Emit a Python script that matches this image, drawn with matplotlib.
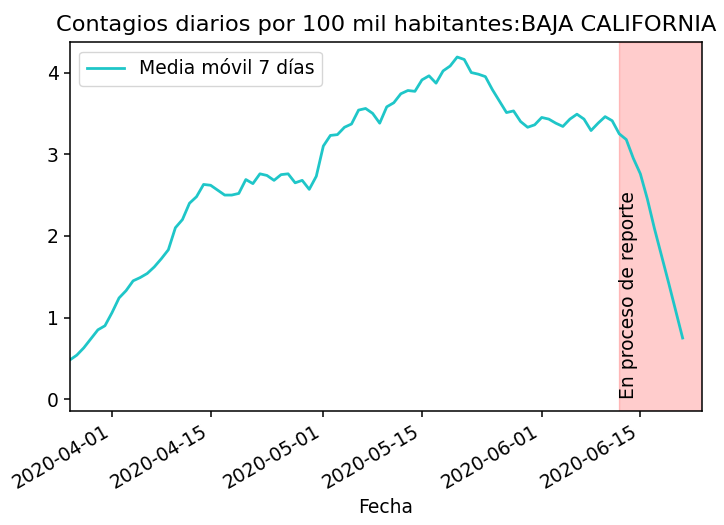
import matplotlib
matplotlib.use("Agg")
import matplotlib.pyplot as plt
import matplotlib.dates as mdates
import pandas as pd
import numpy as np

title = "Contagios diarios por 100 mil habitantes:BAJA CALIFORNIA"
start_date = "2020-03-26"
media_movil = [
    0.48, 0.54, 0.63, 0.74, 0.85, 0.90,                      # Mar 26-31
    1.06, 1.24, 1.33, 1.45, 1.49, 1.54, 1.62, 1.72, 1.83, 2.10,  # Apr 1-10
    2.20, 2.40, 2.48, 2.63, 2.62, 2.56, 2.50, 2.50, 2.52, 2.69,  # Apr 11-20
    2.64, 2.76, 2.74, 2.68, 2.75, 2.76, 2.65, 2.68, 2.57, 2.73,  # Apr 21-30
    3.10, 3.23, 3.24, 3.33, 3.37, 3.54, 3.56, 3.50, 3.38, 3.58,  # May 1-10
    3.63, 3.74, 3.78, 3.77, 3.91, 3.96, 3.87, 4.02, 4.08, 4.19,  # May 11-20
    4.16, 4.00, 3.98, 3.95, 3.79, 3.65, 3.51, 3.53, 3.40, 3.33,  # May 21-30
    3.36,                                                      # May 31
    3.45, 3.43, 3.38, 3.34, 3.43, 3.49, 3.43, 3.29, 3.38, 3.46,  # Jun 1-10
    3.41, 3.25, 3.18, 2.95, 2.76, 2.45, 2.09, 1.76, 1.43, 1.09,  # Jun 11-20
    0.75,                                                      # Jun 21
]
span_start = "2020-06-12"
span_end = "2020-06-25"
xlim_left = "2020-03-26"
xlim_right = "2020-06-23 17:00"
ylim = (-0.14, 4.37)
annot = "En proceso de reporte"
legend_label = "Media móvil 7 días"
xlabel = "Fecha"

fechas = pd.date_range(start_date, periods=len(media_movil), freq="D")

fs = 13.5
fig = plt.figure(figsize=(7.24, 5.25), dpi=100)
ax = fig.add_axes([0.0963, 0.2177, 0.9692 - 0.0963, 0.9194 - 0.2177])

ax.plot(fechas, media_movil, color="#1fc6c8", lw=2, label=legend_label)
ax.axvspan(pd.Timestamp(span_start), pd.Timestamp(span_end), color="red", alpha=0.2)
ax.text(pd.Timestamp(span_start), 0, annot, rotation=90, ha="left", va="bottom",
        fontsize=fs)

ax.set_xlim(pd.Timestamp(xlim_left), pd.Timestamp(xlim_right))
ax.set_ylim(*ylim)
ax.set_yticks([0, 1, 2, 3, 4])
ax.xaxis.set_major_locator(mdates.DayLocator(bymonthday=[1, 15]))
ax.xaxis.set_major_formatter(mdates.DateFormatter("%Y-%m-%d"))
for lab in ax.get_xticklabels():
    lab.set_rotation(30)
    lab.set_ha("right")
ax.tick_params(labelsize=fs, length=4.5, width=1.1)
for s in ax.spines.values():
    s.set_linewidth(1.1)
ax.set_xlabel(xlabel, fontsize=fs)
ax.set_title(title, fontsize=16.2, pad=8)
ax.legend(loc="upper left", fontsize=fs)

fig.savefig("out.png", dpi=100)
